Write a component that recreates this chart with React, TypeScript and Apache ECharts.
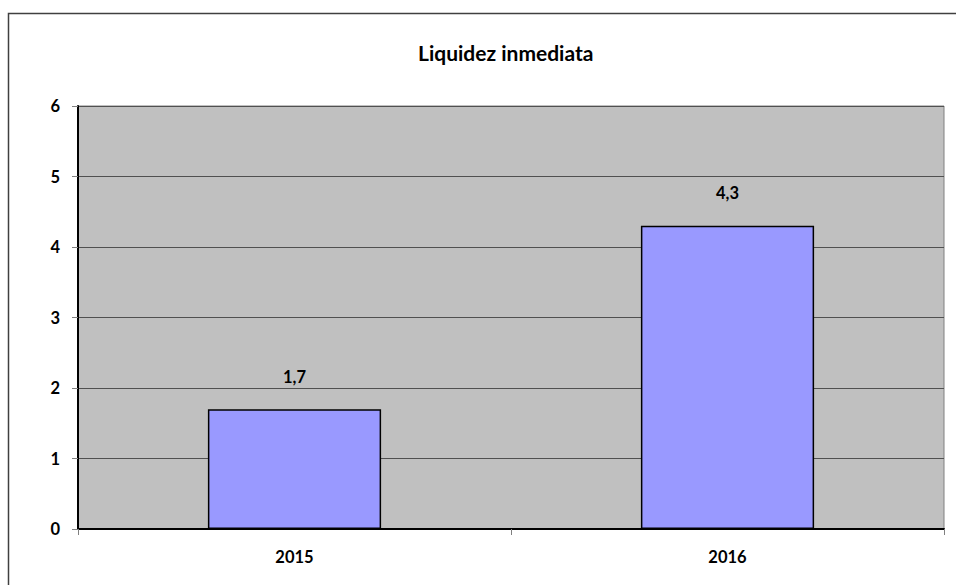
import React, { useEffect, useRef } from "react";
import * as echarts from "echarts";

const categories = ["2015", "2016"];
const values = [1.7, 4.3];
const yTicks = [0, 1, 2, 3, 4, 5, 6];
const title = "Liquidez inmediata";

const FONT = "Lato, 'Open Sans', sans-serif";

export default function App() {
  const ref = useRef<HTMLDivElement>(null);
  useEffect(() => {
    document.body.style.margin = "0";
    const chart = echarts.init(ref.current!, null, { renderer: "svg" });
    chart.setOption({
      animation: false,
      backgroundColor: "#ffffff",
      title: {
        text: title,
        left: 413,
        top: 37,
        textStyle: { fontFamily: FONT, fontWeight: "bold", fontSize: 21, color: "#000" },
      },
      graphic: [
        {
          type: "rect",
          shape: { x: 8.5, y: 13.5, width: 1000, height: 1000 },
          style: { fill: "none", stroke: "#404040", lineWidth: 1.5 },
          silent: true,
          z: -10,
        },
      ],
      grid: {
        left: 78,
        top: 106,
        right: 12,
        bottom: 56,
        show: true,
        backgroundColor: "#C0C0C0",
        borderColor: "#808080",
        borderWidth: 1,
      },
      xAxis: {
        type: "category",
        data: categories,
        axisLine: { show: true, lineStyle: { color: "#000", width: 2 } },
        axisTick: { show: true, length: 6, alignWithLabel: false, lineStyle: { color: "#808080" } },
        axisLabel: { fontFamily: FONT, fontWeight: "bold", fontSize: 16.5, color: "#000", margin: 19 },
      },
      yAxis: {
        type: "value",
        min: yTicks[0],
        max: yTicks[yTicks.length - 1],
        interval: 1,
        axisLine: { show: true, lineStyle: { color: "#000", width: 2 } },
        axisTick: { show: true, length: 6, lineStyle: { color: "#808080" } },
        axisLabel: { fontFamily: FONT, fontWeight: "bold", fontSize: 16.5, color: "#000", margin: 18 },
        splitLine: { show: true, lineStyle: { color: "#505050", width: 1 } },
      },
      series: [
        {
          type: "bar",
          data: values,
          barWidth: "40%",
          itemStyle: { color: "#9999FF", borderColor: "#000", borderWidth: 1.5 },
          label: {
            show: true,
            position: "top",
            distance: 24,
            fontFamily: FONT,
            fontWeight: "bold",
            fontSize: 16.5,
            color: "#000",
            formatter: (p: any) => String(p.value).replace(".", ","),
          },
        },
      ],
    });
    return () => chart.dispose();
  }, []);
  return <div ref={ref} style={{ width: 956, height: 585 }} />;
}
